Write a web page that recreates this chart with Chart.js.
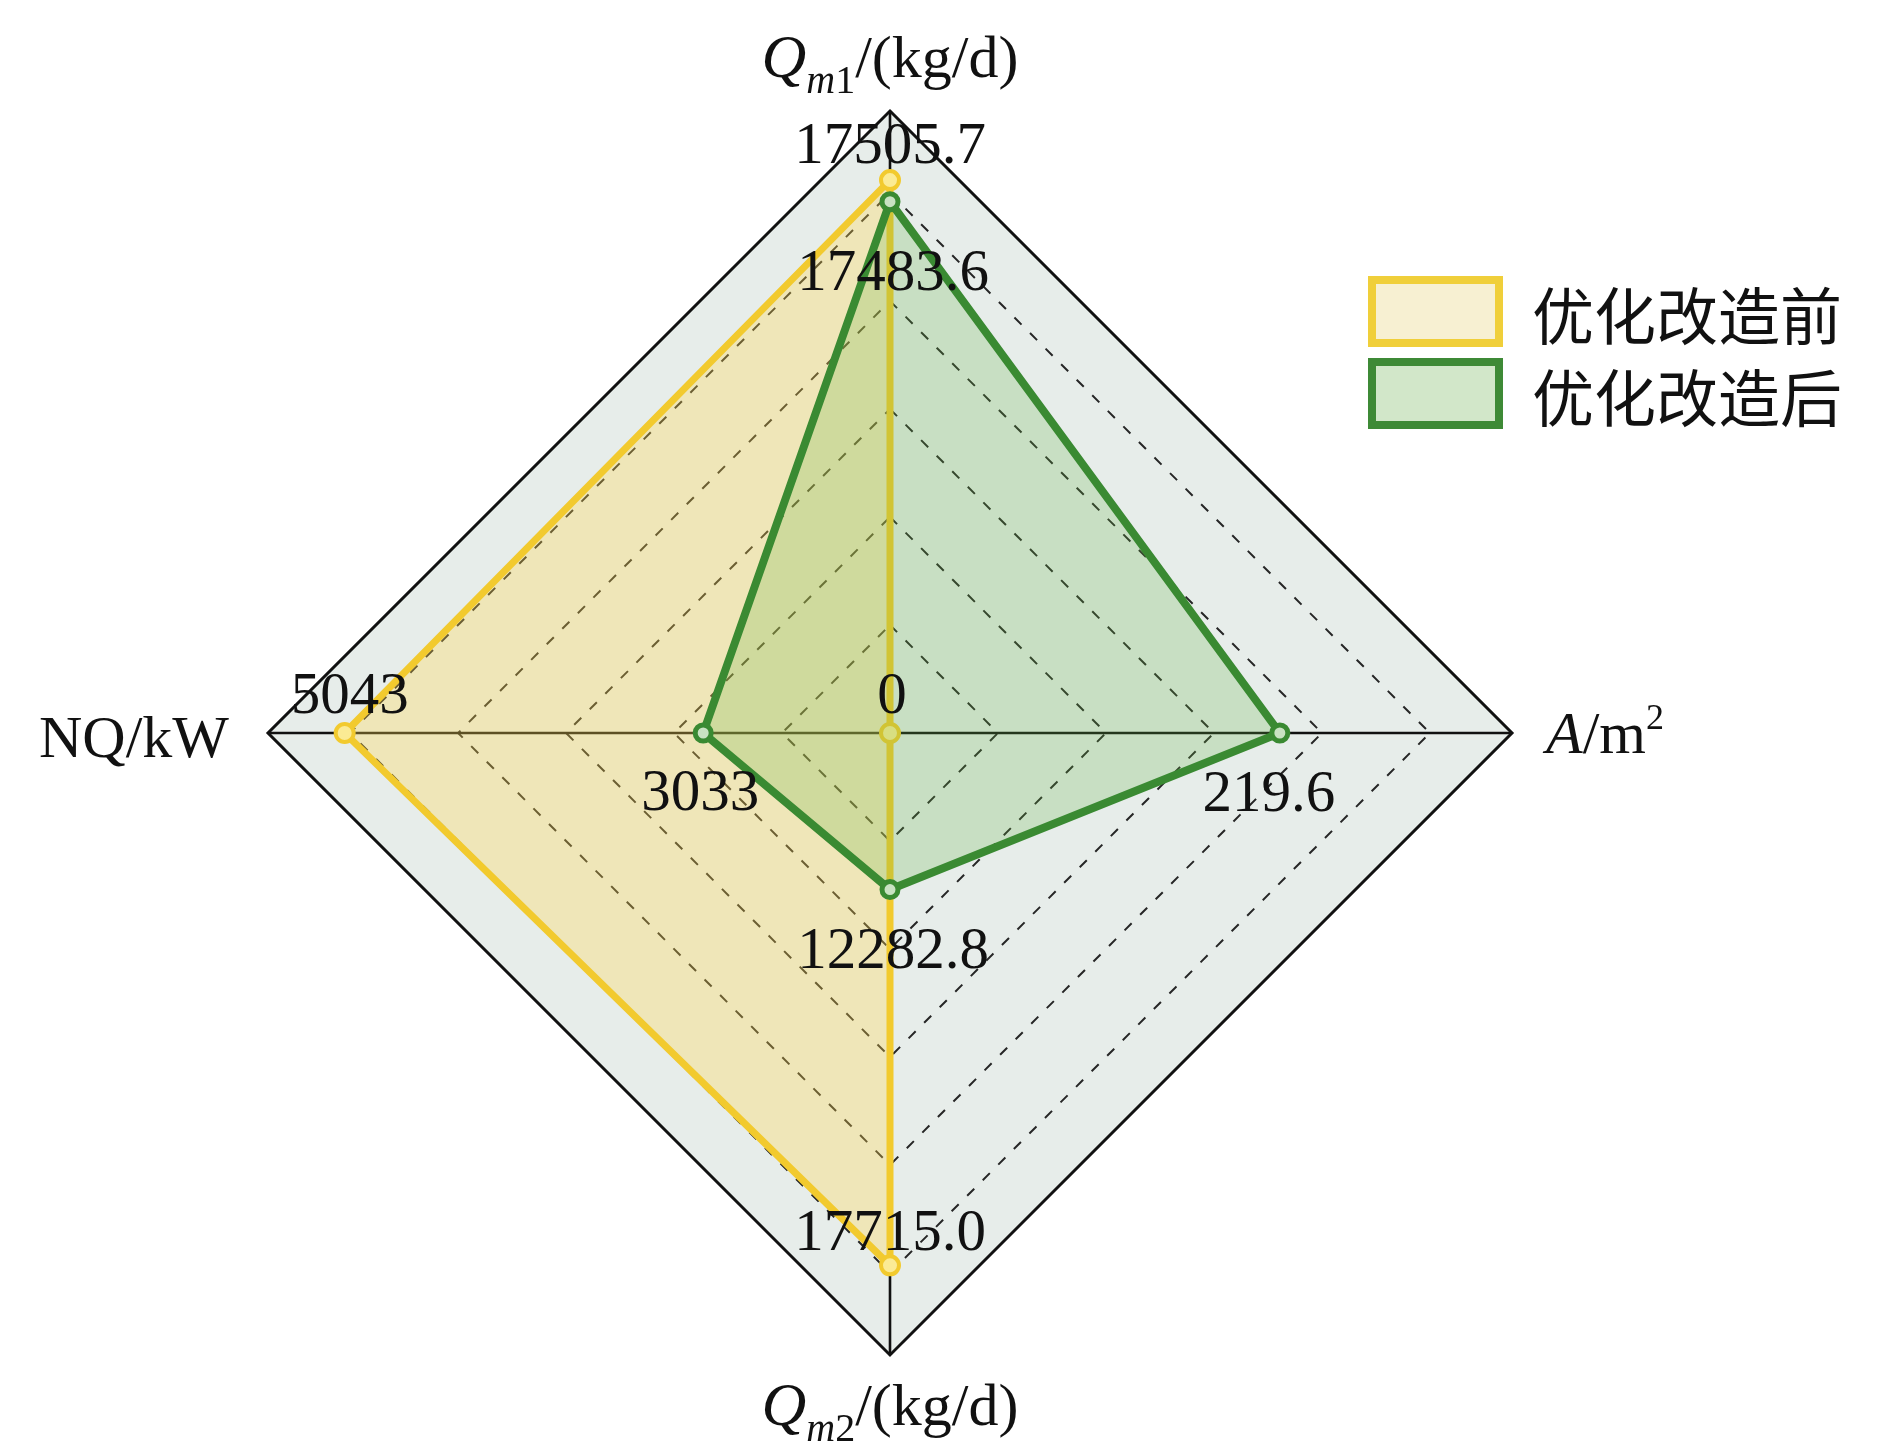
<!DOCTYPE html>
<html>
<head>
<meta charset="utf-8">
<title>优化改造前后对比</title>
<script src="https://cdn.jsdelivr.net/npm/chart.js@4.4.1/dist/chart.umd.min.js"></script>
<style>
  html, body { margin: 0; padding: 0; background: #ffffff; }
  #wrap { position: relative; width: 1890px; height: 1456px; }
</style>
</head>
<body>
<div id="wrap"><canvas id="radar"></canvas></div>
<script>
// --- Data ---
// axes clockwise from top: Qm1, A, Qm2, NQ
const axisNames = ['Qm1/(kg/d)', 'A/m2', 'Qm2/(kg/d)', 'NQ/kW'];
const seriesNames = ['优化改造前', '优化改造后'];
const beforeValues = [17505.7, 0, 17715.0, 5043];
const afterValues = [17483.6, 219.6, 12282.8, 3033];
const beforeText = ['17505.7', '0', '17715.0', '5043'];
const afterText = ['17483.6', '219.6', '12282.8', '3033'];
// plotted distance from centre, in grid-ring units
const beforeRadius = [5.12, 0, 4.93, 5.05];
const afterRadius = [4.92, 3.61, 1.45, 1.73];
// grid rings (last one is the solid outer frame)
const ringTicks = [0, 1, 2, 3, 4, 5, 5.76];

const OUTER = ringTicks[ringTicks.length - 1];
const SERIF = '"Liberation Serif", "Times New Roman", serif';
const CJK = '"Noto Sans CJK SC", sans-serif';

const YELLOW = '#f2ca2e';
const GREEN = '#3a8a32';

// text offsets of value labels from their points (dx, baseline dy)
const beforeLabelOffsets = [[0, -17], [2, -20], [0, -15], [5, -20]];
const afterLabelOffsets = [[3, 88], [-11, 78], [3, 78], [-3, 77]];

function fontOf(p) {
    return (p.italic ? 'italic ' : '') + p.size + 'px ' + SERIF;
}

// draws a run of mixed italic / sub / superscript pieces
function drawRich(ctx, parts, x, y, align) {
    let total = 0;
    parts.forEach(p => {
        ctx.font = fontOf(p);
        p.w = ctx.measureText(p.t).width;
        total += p.w;
    });
    let cx = x;
    if (align === 'center') cx = x - total / 2;
    if (align === 'right') cx = x - total;
    ctx.textAlign = 'left';
    ctx.textBaseline = 'alphabetic';
    parts.forEach(p => {
        ctx.font = fontOf(p);
        ctx.fillText(p.t, cx, y + (p.dy || 0));
        cx += p.w;
    });
}

const axisTitles = {
    id: 'axisTitles',
    afterDraw(chart) {
        const ctx = chart.ctx;
        const r = chart.scales.r;
        const R = r.drawingArea;
        ctx.save();
        ctx.fillStyle = '#111';
        const top = r.getPointPosition(0, R + 34);
        drawRich(ctx, [
            { t: 'Q', italic: true, size: 62 },
            { t: 'm', italic: true, size: 40, dy: 16 },
            { t: '1', size: 40, dy: 16 },
            { t: '/(kg/d)', size: 60 }
        ], top.x, top.y, 'center');
        const right = r.getPointPosition(1, R + 34);
        drawRich(ctx, [
            { t: 'A', italic: true, size: 60 },
            { t: '/m', size: 60 },
            { t: '2', size: 36, dy: -24 }
        ], right.x, right.y + 20, 'left');
        const bottom = r.getPointPosition(2, R + 70);
        drawRich(ctx, [
            { t: 'Q', italic: true, size: 62 },
            { t: 'm', italic: true, size: 40, dy: 16 },
            { t: '2', size: 40, dy: 16 },
            { t: '/(kg/d)', size: 60 }
        ], bottom.x, bottom.y, 'center');
        const left = r.getPointPosition(3, R + 39);
        drawRich(ctx, [{ t: 'NQ/kW', size: 60 }], left.x, left.y + 24, 'right');
        ctx.restore();
    }
};

const valueLabels = {
    id: 'valueLabels',
    afterDatasetsDraw(chart) {
        const ctx = chart.ctx;
        ctx.save();
        ctx.fillStyle = '#111';
        ctx.font = '59px ' + SERIF;
        ctx.textAlign = 'center';
        ctx.textBaseline = 'alphabetic';
        const sets = [[beforeText, beforeLabelOffsets], [afterText, afterLabelOffsets]];
        sets.forEach(([texts, offs], di) => {
            const meta = chart.getDatasetMeta(di);
            meta.data.forEach((pt, i) => {
                ctx.fillText(texts[i], pt.x + offs[i][0], pt.y + offs[i][1]);
            });
        });
        ctx.restore();
    }
};

const boxLegend = {
    id: 'boxLegend',
    afterDraw(chart) {
        const ctx = chart.ctx;
        const items = [
            { name: seriesNames[0], stroke: '#f0cf3a', fill: '#f7f0d2', y: 280 },
            { name: seriesNames[1], stroke: '#3e8a36', fill: '#d2e7c9', y: 362 }
        ];
        ctx.save();
        items.forEach(it => {
            ctx.fillStyle = it.fill;
            ctx.fillRect(1372, it.y, 127, 63);
            ctx.lineWidth = 8;
            ctx.strokeStyle = it.stroke;
            ctx.strokeRect(1372, it.y, 127, 63);
            ctx.fillStyle = '#111';
            ctx.font = '62px ' + CJK;
            ctx.textAlign = 'left';
            ctx.textBaseline = 'middle';
            ctx.fillText(it.name, 1532, it.y + 36);
        });
        ctx.restore();
    }
};

new Chart(document.getElementById('radar'), {
    type: 'radar',
    data: {
        labels: axisNames,
        datasets: [{
            label: seriesNames[0],
            data: beforeRadius,
            order: 2,
            borderColor: YELLOW,
            backgroundColor: 'rgba(255, 214, 78, 0.32)',
            borderWidth: 7,
            borderJoinStyle: 'round',
            fill: true,
            pointRadius: 9,
            pointBorderWidth: 4,
            pointBackgroundColor: '#fbeb94',
            pointBorderColor: YELLOW
        }, {
            label: seriesNames[1],
            data: afterRadius,
            order: 1,
            borderColor: GREEN,
            backgroundColor: 'rgba(105, 180, 70, 0.24)',
            borderWidth: 8,
            borderJoinStyle: 'round',
            fill: true,
            pointRadius: 8,
            pointBorderWidth: 5,
            pointBackgroundColor: '#c9e2c2',
            pointBorderColor: GREEN
        }]
    },
    options: {
        responsive: true,
        maintainAspectRatio: false,
        animation: false,
        layout: {
            padding: { left: 268, top: 111, right: 378, bottom: 101 }
        },
        plugins: {
            legend: { display: false },
            tooltip: { enabled: false }
        },
        scales: {
            r: {
                min: 0,
                max: OUTER,
                backgroundColor: '#e7edea',
                afterBuildTicks: (scale) => {
                    scale.ticks = ringTicks.map(v => ({ value: v }));
                },
                ticks: { display: false },
                pointLabels: { display: false },
                angleLines: { color: '#111', lineWidth: 2.6 },
                grid: {
                    color: (c) => c.tick && c.tick.value === OUTER ? '#111' : '#262626',
                    lineWidth: (c) => c.tick && c.tick.value === OUTER ? 3 : 2
                },
                border: {
                    dash: (c) => c.tick && c.tick.value === OUTER ? [] : [10, 12]
                }
            }
        }
    },
    plugins: [valueLabels, axisTitles, boxLegend]
});
</script>
</body>
</html>
